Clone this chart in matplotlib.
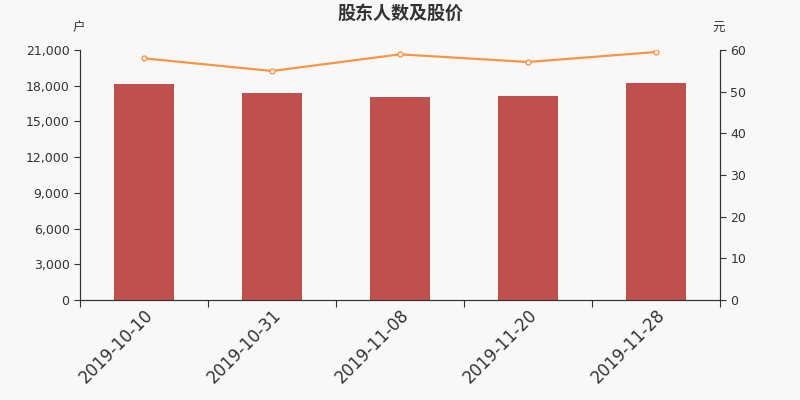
import matplotlib.pyplot as plt

plt.rcParams['font.family'] = ['DejaVu Sans']

dates = ['2019-10-10', '2019-10-31', '2019-11-08', '2019-11-20', '2019-11-28']
holders = [18150, 17390, 17080, 17160, 18240]
price = [58.0, 54.96, 58.96, 57.12, 59.52]

bg = '#f8f8f8'
txt = '#333333'
cjk = ['Noto Sans CJK SC', 'DejaVu Sans']

fig = plt.figure(figsize=(8, 4), dpi=100, facecolor=bg)
ax = fig.add_axes([0.1, 0.25, 0.8, 0.625])
ax.set_facecolor(bg)

x = range(len(dates))
ax.bar(x, holders, width=0.47, color='#c0504d', zorder=2)
ax.set_xlim(-0.5, len(dates) - 0.5)
ax.set_ylim(0, 21000)
ax.set_yticks(range(0, 21001, 3000))
ax.set_yticklabels([f'{v:,}' for v in range(0, 21001, 3000)])

ax.set_xticks([i - 0.5 for i in range(len(dates) + 1)])
ax.set_xticklabels([])
ax.set_xticks(list(x), minor=True)
ax.set_xticklabels(dates, minor=True, rotation=45, ha='right', va='top',
                   rotation_mode='anchor', fontsize=12, color=txt)
ax.tick_params(axis='x', which='minor', length=0, pad=4)
ax.tick_params(axis='x', which='major', length=5, color=txt)
ax.tick_params(axis='y', labelsize=9, labelcolor=txt, color=txt, length=4)

ax2 = ax.twinx()
ax2.plot(x, price, color='#f79646', lw=1.6, marker='o', ms=3.5,
         mfc='white', mec='#f79646', mew=1, zorder=3)
ax2.set_ylim(0, 60)
ax2.set_yticks(range(0, 61, 10))
ax2.tick_params(axis='y', labelsize=9, labelcolor=txt, color=txt, length=4)

for a in (ax, ax2):
    a.spines['top'].set_visible(False)
    for s in ('left', 'right', 'bottom'):
        a.spines[s].set_color(txt)

fig.text(0.5, 0.967, '股东人数及股价', ha='center', va='center',
         fontsize=13, fontweight='bold', color=txt, family=cjk)
fig.text(0.098, 0.93, '户', ha='center', va='center', fontsize=9, color=txt,
         family=cjk)
fig.text(0.898, 0.93, '元', ha='center', va='center', fontsize=9, color=txt,
         family=cjk)

fig.savefig('out.png', facecolor=bg)
